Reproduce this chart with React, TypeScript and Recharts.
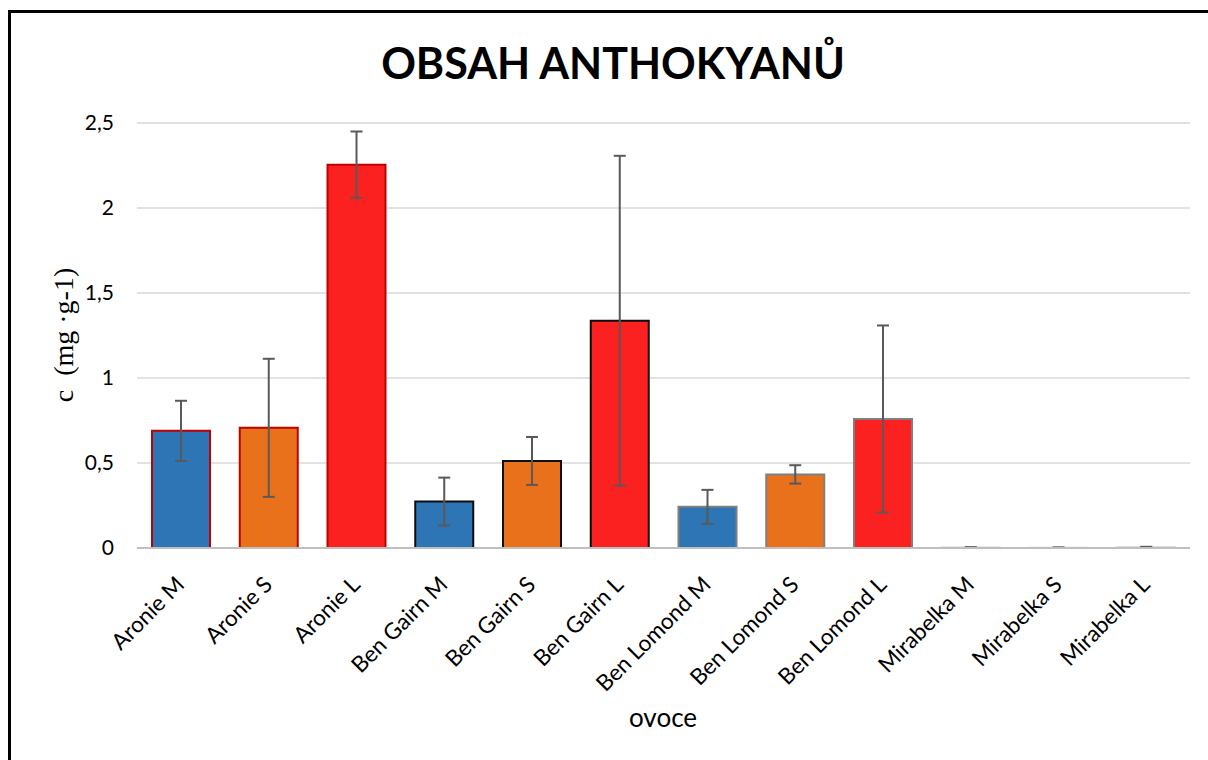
import { BarChart, Bar, XAxis, YAxis, CartesianGrid, Cell, ErrorBar } from 'recharts'

// vzorky (ovoce) a naměřené hodnoty c (mg·g-1)
const categories = [
  'Aronie M',
  'Aronie S',
  'Aronie L',
  'Ben Gairn M',
  'Ben Gairn S',
  'Ben Gairn L',
  'Ben Lomond M',
  'Ben Lomond S',
  'Ben Lomond L',
  'Mirabelka M',
  'Mirabelka S',
  'Mirabelka L',
]
const values = [0.689, 0.707, 2.255, 0.273, 0.512, 1.337, 0.242, 0.433, 0.759, 0.003, 0.002, 0.004]
const errors = [0.177, 0.406, 0.195, 0.141, 0.141, 0.97, 0.1, 0.054, 0.55, 0.002, 0.002, 0.003]
const yTicks = [0, 0.5, 1, 1.5, 2, 2.5]

const sizeColors = ['#2e75b6', '#e9711c', '#fc2121'] // M, S, L
const groupOutlines = ['#c00000', '#0d0d0d', '#7f7f7f', '#d0d0d0']

const data = categories.map((name, i) => ({ name, value: values[i], err: errors[i] }))

const font = 'Lato, "Open Sans", sans-serif'

function XTick({ x, y, payload }: { x?: number; y?: number; payload?: { value: string } }) {
  const tx = (x ?? 0) + 5
  const ty = (y ?? 0) + 30
  return (
    <text
      x={tx}
      y={ty}
      transform={`rotate(-45, ${tx}, ${ty})`}
      textAnchor="end"
      fontSize={22.5}
      fontFamily={font}
      fill="#000"
    >
      {payload?.value}
    </text>
  )
}

export default function App() {
  return (
    <div
      style={{
        position: 'absolute',
        left: 0,
        top: 0,
        width: 1208,
        height: 760,
        overflow: 'hidden',
        background: '#fff',
      }}
    >
      <div
        style={{
          position: 'absolute',
          left: 8,
          top: 10,
          width: 1300,
          height: 900,
          border: '3px solid #000',
        }}
      />
      <div style={{ position: 'absolute', left: 0, top: 0 }}>
        <BarChart width={1208} height={760} data={data} margin={{ top: 123, right: 18, left: 0, bottom: 0 }}>
          <CartesianGrid vertical={false} stroke="#d9d9d9" strokeWidth={1.5} />
          <XAxis
            dataKey="name"
            interval={0}
            height={212}
            tickLine={false}
            axisLine={{ stroke: '#bfbfbf', strokeWidth: 2 }}
            tick={<XTick />}
          />
          <YAxis
            width={137}
            domain={[0, 2.5]}
            ticks={yTicks}
            axisLine={false}
            tickLine={false}
            tickMargin={17}
            tick={{ fill: '#000', fontSize: 21, fontFamily: font }}
            tickFormatter={(v: number) => String(v).replace('.', ',')}
          />
          <Bar dataKey="value" barSize={58} isAnimationActive={false}>
            {data.map((d, i) => (
              <Cell
                key={d.name}
                fill={sizeColors[i % 3]}
                stroke={groupOutlines[Math.floor(i / 3)]}
                strokeWidth={2}
              />
            ))}
            <ErrorBar dataKey="err" direction="y" width={6} stroke="#595959" strokeWidth={2} />
          </Bar>
        </BarChart>
      </div>
      <svg
        width={1208}
        height={760}
        style={{ position: 'absolute', left: 0, top: 0, pointerEvents: 'none' }}
      >
        <text x={613} y={79} textAnchor="middle" fontSize={43} fontWeight={700} fontFamily={font} fill="#000">
          OBSAH ANTHOKYANŮ
        </text>
        <text
          x={73}
          y={335}
          transform="rotate(-90, 73, 335)"
          textAnchor="middle"
          fontSize={28}
          fontFamily='"Liberation Serif", "Times New Roman", serif'
          fill="#000"
          style={{ whiteSpace: 'pre' }}
        >
          {'c  (mg ·g-1)'}
        </text>
        <text x={663} y={727} textAnchor="middle" fontSize={26} fontFamily={font} fill="#000">
          ovoce
        </text>
      </svg>
    </div>
  )
}
